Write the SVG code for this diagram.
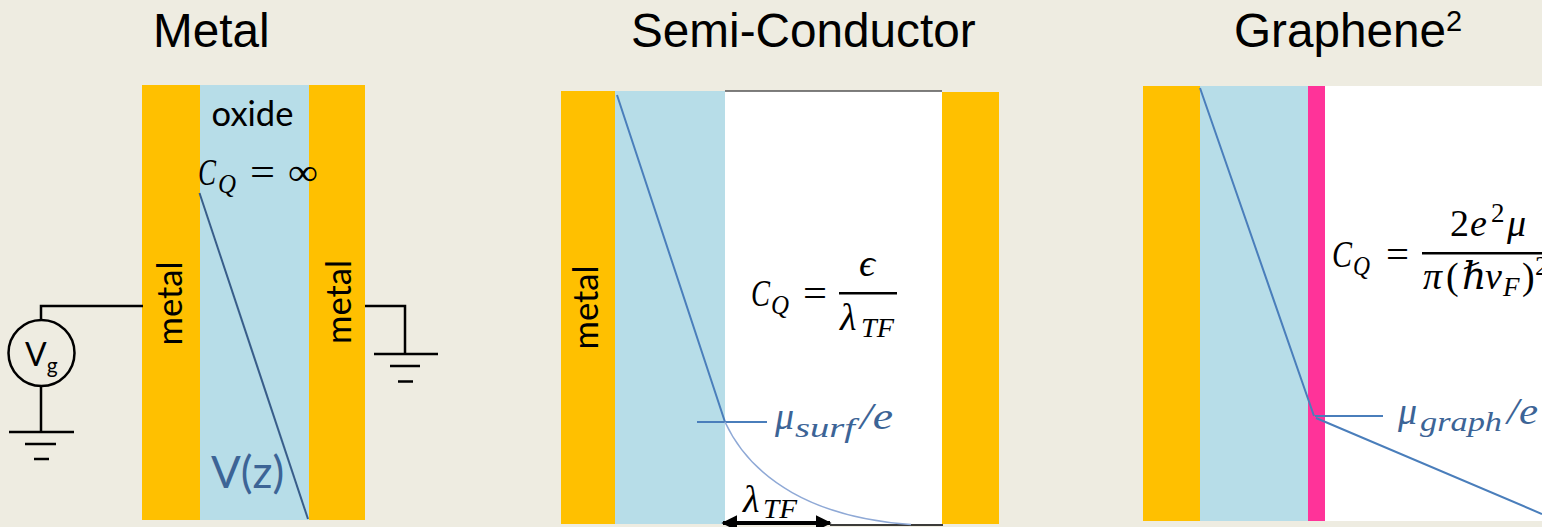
<svg xmlns="http://www.w3.org/2000/svg" width="1542" height="527" viewBox="0 0 1542 527">
<style>
.t{font-family:"Liberation Sans",Arial,sans-serif;font-size:47.7px;fill:#000}
.c{font-family:Lato,"Open Sans",sans-serif;fill:#000;font-size:34.500px}
.m{font-family:"Liberation Serif","DejaVu Serif",serif;font-style:italic;fill:#000;font-size:38px}
.s{font-family:"Liberation Serif","DejaVu Serif",serif;font-style:italic;fill:#000;font-size:27px}
.u{font-family:"Liberation Serif","DejaVu Serif",serif;fill:#000;font-size:38px}
.b{fill:#3c6496}
.or{fill:#ffc000}.ox{fill:#b7dde8}.wh{fill:#fff}
.w{stroke:#000;stroke-width:2.5;fill:none}
.l{stroke:#4a7ebb;stroke-width:2;fill:none}
</style>
<defs>
<marker id="ah" viewBox="0 0 10 10" refX="9" refY="5" markerWidth="16" markerHeight="16" markerUnits="userSpaceOnUse" orient="auto-start-reverse"><path d="M0 0L10 5L0 10Z" fill="#000"/></marker>
</defs>
<rect width="1542" height="527" fill="#eeece1"/>
<g id="title-metal"><text class="t" x="153" y="47">Metal</text></g>
<g id="title-semi"><text class="t" x="631" y="47">Semi-Conductor</text></g>
<g id="title-graphene"><text class="t" x="1234" y="47">Graphene<tspan font-size="29" dy="-16">2</tspan></text></g>

<g id="metal-panel">
<rect class="or" x="142" y="85" width="223" height="435"/>
<rect class="ox" x="200" y="85" width="109" height="435"/>
<text class="c" x="252.500" y="126" text-anchor="middle">oxide</text>
<text class="c" transform="translate(181.500,345.500) rotate(-90)">metal</text>
<text class="c" transform="translate(350.500,344) rotate(-90)">metal</text>
<text class="m" x="198" y="185" textLength="18" lengthAdjust="spacingAndGlyphs">C</text><text class="s" x="218" y="193" textLength="18" lengthAdjust="spacingAndGlyphs">Q</text>
<text class="u" x="250" y="185" textLength="25" lengthAdjust="spacingAndGlyphs">=</text><text class="u" x="288" y="185" textLength="30" lengthAdjust="spacingAndGlyphs">∞</text>
<text class="c b" x="211" y="488" style="font-size:44px">V(z)</text>
</g>
<g id="vg-source">
<circle cx="41.500" cy="353" r="33" fill="none" stroke="#000" stroke-width="2.500"/>
<text class="c" x="25" y="366" style="font-size:32px">V<tspan font-size="21" dy="7">g</tspan></text>
</g>
<g id="ground-left">
<path class="w" d="M9 432H74M25 444H56M34 459H49"/>
</g>
<g id="ground-right">
<path class="w" d="M374 354H438M390 366H420M398 381.500H413"/>
</g>

<g id="semi-panel">
<rect class="or" x="561" y="91" width="54" height="433"/>
<rect class="ox" x="615" y="91" width="110" height="433"/>
<rect class="wh" x="725" y="91" width="217" height="433"/>
<rect class="or" x="942" y="92" width="57" height="432"/>
<text class="c" transform="translate(597.500,349.500) rotate(-90)">metal</text>
<text class="m" x="751" y="306" textLength="19" lengthAdjust="spacingAndGlyphs">C</text><text class="s" x="771" y="314" textLength="18" lengthAdjust="spacingAndGlyphs">Q</text>
<text class="u" x="803" y="306" textLength="24" lengthAdjust="spacingAndGlyphs">=</text>
<text class="m" x="859" y="276" textLength="16" lengthAdjust="spacingAndGlyphs">ϵ</text>
<rect x="839" y="292" width="58" height="2.500"/>
<text class="m" x="840" y="330">λ</text><text class="s" x="861" y="337" textLength="33" lengthAdjust="spacingAndGlyphs">TF</text>
<text class="m b" x="775" y="429">μ</text><text class="s b" x="795" y="437" textLength="60" lengthAdjust="spacingAndGlyphs">surf</text><text class="m b" x="860" y="429" textLength="33" lengthAdjust="spacingAndGlyphs">/e</text>
<text class="m" x="743" y="512">λ</text><text class="s" x="763" y="518" textLength="34" lengthAdjust="spacingAndGlyphs">TF</text>
</g>

<g id="graphene-panel">
<rect class="or" x="1143" y="86" width="57" height="435"/>
<rect class="ox" x="1200" y="86" width="108" height="435"/>
<rect x="1308" y="86" width="17" height="435" fill="#ff3399"/>
<rect class="wh" x="1325" y="86" width="217" height="435"/>
<text class="m" x="1332" y="267" textLength="20" lengthAdjust="spacingAndGlyphs">C</text><text class="s" x="1353" y="275" textLength="17" lengthAdjust="spacingAndGlyphs">Q</text>
<text class="u" x="1386" y="267" textLength="23" lengthAdjust="spacingAndGlyphs">=</text>
<text class="u" x="1450" y="236">2</text><text class="m" x="1470" y="236">e</text><text class="s" x="1491" y="222" style="font-style:normal">2</text><text class="m" x="1507" y="236">μ</text>
<rect x="1422" y="252" width="120" height="2.500"/>
<text class="m" x="1423" y="289">π</text><text class="u" x="1446" y="289">(</text><text class="m" x="1462" y="289">ℏ</text><text class="m" x="1485" y="289">ν</text><text class="s" x="1503" y="296">F</text><text class="u" x="1522" y="289">)</text><text class="s" x="1535" y="275" style="font-style:normal">2</text>
<text class="m b" x="1398" y="424">μ</text><text class="s b" x="1420" y="431" textLength="82" lengthAdjust="spacingAndGlyphs">graph</text><text class="m b" x="1507" y="424" textLength="31" lengthAdjust="spacingAndGlyphs">/e</text>
</g>

<g id="connectors">
<path class="w" d="M41 320V306H143M41 386V432M365 306H405V354"/>
<path d="M199.500 193L308 519" stroke="#385d8a" stroke-width="2" fill="none"/>
<path d="M725 91H942" stroke="#555" stroke-width="1.500" fill="none"/>
<path d="M830 525H943" stroke="#000" stroke-width="1.500" fill="none"/>
<path d="M617 95L725 422M697 422H767" class="l"/>
<path d="M725 422C752 480 815 518 911 524.500" fill="none" stroke="#8fa9d6" stroke-width="1.500"/>
<path d="M723 523H830" stroke="#000" stroke-width="4" fill="none" marker-start="url(#ah)" marker-end="url(#ah)"/>
<path d="M1200 88L1314 416M1315 416H1383M1316 418L1542 514" class="l"/>
</g>
</svg>
